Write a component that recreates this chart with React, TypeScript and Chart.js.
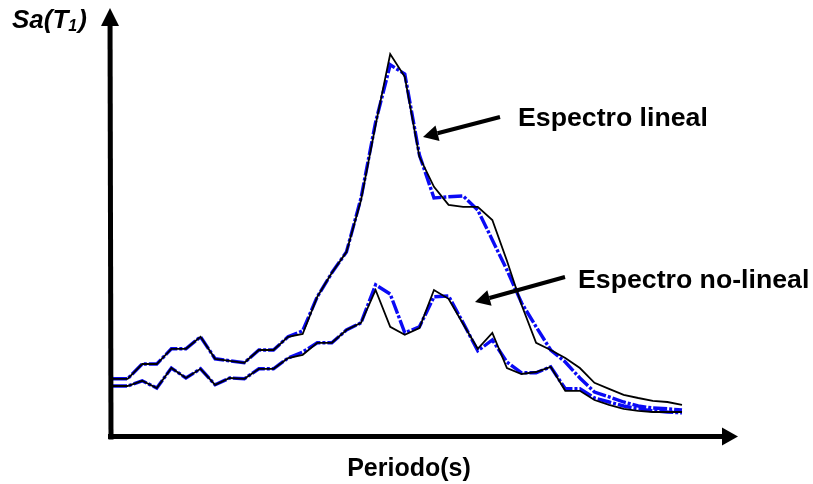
import React, { useEffect, useRef } from "react";
import { Chart, registerables } from "chart.js";

Chart.register(...registerables);

// Structural periods (s) of the spectrum ordinates
const periods = [
  0.1, 0.2, 0.3, 0.4, 0.5, 0.6, 0.7, 0.8, 0.9, 1.0,
  1.1, 1.2, 1.3, 1.4, 1.5, 1.6, 1.7, 1.8, 1.9, 2.0,
  2.1, 2.2, 2.3, 2.4, 2.5, 2.6, 2.7, 2.8, 2.9, 3.0,
  3.1, 3.2, 3.3, 3.4, 3.5, 3.6, 3.7, 3.8, 3.9, 4.0,
];

// Linear spectrum: target (black) and fitted (blue)
const linealTarget = [
  0.143, 0.143, 0.18, 0.18, 0.218, 0.218, 0.248, 0.193, 0.188, 0.183,
  0.215, 0.215, 0.248, 0.255, 0.348, 0.408, 0.46, 0.59, 0.778, 0.955,
  0.898, 0.698, 0.623, 0.578, 0.573, 0.573, 0.54, 0.438, 0.328, 0.233,
  0.215, 0.195, 0.17, 0.133, 0.118, 0.103, 0.095, 0.088, 0.085, 0.078,
];
const linealFit = [
  0.143, 0.143, 0.18, 0.18, 0.218, 0.218, 0.248, 0.193, 0.188, 0.183,
  0.215, 0.215, 0.248, 0.263, 0.348, 0.408, 0.46, 0.595, 0.785, 0.928,
  0.905, 0.703, 0.595, 0.598, 0.6, 0.565, 0.49, 0.415, 0.333, 0.273,
  0.215, 0.185, 0.145, 0.11, 0.098, 0.085, 0.075, 0.07, 0.068, 0.065,
];

// Non-linear spectrum: target (black) and fitted (blue)
const noLinealTarget = [
  0.125, 0.125, 0.138, 0.12, 0.17, 0.145, 0.168, 0.128, 0.145, 0.143,
  0.168, 0.168, 0.195, 0.203, 0.233, 0.233, 0.265, 0.283, 0.365, 0.273,
  0.253, 0.27, 0.365, 0.343, 0.28, 0.218, 0.258, 0.17, 0.155, 0.16,
  0.173, 0.113, 0.113, 0.09, 0.078, 0.068, 0.063, 0.06, 0.06, 0.06,
];
const noLinealFit = [
  0.125, 0.125, 0.138, 0.12, 0.17, 0.145, 0.168, 0.128, 0.145, 0.143,
  0.168, 0.168, 0.195, 0.21, 0.233, 0.233, 0.265, 0.283, 0.378, 0.355,
  0.258, 0.273, 0.348, 0.35, 0.283, 0.213, 0.24, 0.185, 0.158, 0.158,
  0.173, 0.118, 0.118, 0.095, 0.085, 0.075, 0.068, 0.063, 0.06, 0.058,
];

const FONT = '"Liberation Sans", Arial, sans-serif';
const BLUE = "rgb(10,10,245)";
const BLACK = "#000";

function arrow(ctx: CanvasRenderingContext2D, x1: number, y1: number, x2: number, y2: number, w: number, headLen: number, headHalf: number) {
  const ang = Math.atan2(y2 - y1, x2 - x1);
  const bx = x2 - Math.cos(ang) * headLen;
  const by = y2 - Math.sin(ang) * headLen;
  ctx.save();
  ctx.strokeStyle = BLACK;
  ctx.fillStyle = BLACK;
  ctx.lineWidth = w;
  ctx.lineCap = "butt";
  ctx.beginPath();
  ctx.moveTo(x1, y1);
  ctx.lineTo(bx, by);
  ctx.stroke();
  ctx.beginPath();
  ctx.moveTo(x2, y2);
  ctx.lineTo(bx + Math.sin(ang) * headHalf, by - Math.cos(ang) * headHalf);
  ctx.lineTo(bx - Math.sin(ang) * headHalf, by + Math.cos(ang) * headHalf);
  ctx.closePath();
  ctx.fill();
  ctx.restore();
}

const decorations = {
  id: "decorations",
  afterDraw(chart: Chart) {
    const ctx = chart.ctx;
    const { left, bottom } = chart.chartArea;
    const ax = left - 2;
    const ay = bottom + 0.5;

    // Axes with arrow heads
    arrow(ctx, ax, ay + 3, ax - 1, 8, 5, 18, 9);
    arrow(ctx, ax - 3, ay, 738, ay, 5, 16, 9);

    // Call-out arrows
    arrow(ctx, 500, 117, 423, 137, 4, 15, 8);
    arrow(ctx, 565, 277, 475, 302, 4, 15, 8);

    ctx.save();
    ctx.fillStyle = BLACK;
    ctx.textBaseline = "alphabetic";

    // Y axis title: Sa(T1)
    ctx.font = `italic bold 26px ${FONT}`;
    let x = 12;
    const yb = 28;
    ctx.fillText("Sa(T", x, yb);
    x += ctx.measureText("Sa(T").width;
    ctx.font = `italic bold 16px ${FONT}`;
    ctx.fillText("1", x, yb + 3);
    x += ctx.measureText("1").width + 1;
    ctx.font = `italic bold 26px ${FONT}`;
    ctx.fillText(")", x, yb);

    // X axis title
    ctx.font = `bold 25px ${FONT}`;
    ctx.textAlign = "center";
    ctx.fillText("Periodo(s)", 409, 476);

    // Series labels
    ctx.textAlign = "left";
    ctx.font = `bold 26.7px ${FONT}`;
    ctx.fillText("Espectro lineal", 518, 126);
    ctx.fillText("Espectro no-lineal", 578, 288);
    ctx.restore();
  },
};

export default function App() {
  const ref = useRef<HTMLCanvasElement | null>(null);

  useEffect(() => {
    document.body.style.margin = "0";
    const canvas = ref.current;
    if (!canvas) return;
    const solid = (data: number[]) => ({
      data,
      borderColor: BLACK,
      borderWidth: 1.8,
      pointRadius: 0,
      tension: 0,
      clip: false as const,
      fill: false,
    });
    const dashed = (data: number[]) => ({
      data,
      borderColor: BLUE,
      borderWidth: 3.4,
      borderDash: [14, 2, 3, 2],
      pointRadius: 0,
      tension: 0,
      clip: false as const,
      fill: false,
    });
    const chart = new Chart(canvas, {
      type: "line",
      data: {
        labels: periods.map(String),
        datasets: [
          { label: "Espectro lineal", ...solid(linealTarget) },
          { label: "Espectro no-lineal", ...solid(noLinealTarget) },
          { label: "Espectro lineal (ajuste)", ...dashed(linealFit) },
          { label: "Espectro no-lineal (ajuste)", ...dashed(noLinealFit) },
        ],
      },
      options: {
        animation: false,
        responsive: false,
        events: [],
        layout: { padding: { left: 113, right: 131, top: 36, bottom: 48 } },
        plugins: { legend: { display: false }, tooltip: { enabled: false } },
        scales: {
          x: { type: "category", display: false, offset: false },
          y: { type: "linear", display: false, min: 0, max: 1 },
        },
      },
      plugins: [decorations],
    });
    return () => chart.destroy();
  }, []);

  return (
    <div style={{ position: "absolute", left: 0, top: 0, width: 813, height: 484, background: "#fff" }}>
      <canvas ref={ref} width={813} height={484} />
    </div>
  );
}
